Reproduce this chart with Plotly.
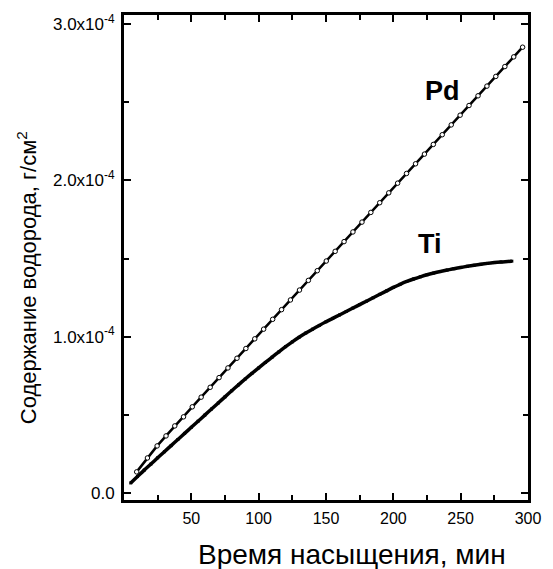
import plotly.graph_objects as go

# Pd series (time, min ; hydrogen content, 1e-4 g/cm2)
pd_t = [9.4, 17.4, 24.6, 31.2, 37.7, 44.2, 50.7, 57.3, 64.0, 70.6, 77.2, 83.9, 90.5, 97.1,
        103.7, 110.4, 117.0, 123.6, 130.3, 136.9, 143.5, 150.2, 156.8, 163.4, 170.0, 176.7,
        183.3, 189.9, 196.6, 203.2, 209.8, 216.5, 223.1, 229.7, 236.3, 243.0, 249.6, 256.2,
        262.9, 269.5, 276.1, 282.8, 289.4, 296.0]
pd_v = [0.135, 0.224, 0.301, 0.365, 0.429, 0.487, 0.551, 0.613, 0.676, 0.738, 0.800, 0.862,
        0.924, 0.986, 1.048, 1.111, 1.173, 1.235, 1.298, 1.360, 1.422, 1.484, 1.546, 1.608,
        1.670, 1.733, 1.795, 1.857, 1.920, 1.982, 2.044, 2.106, 2.168, 2.230, 2.292, 2.355,
        2.417, 2.479, 2.541, 2.603, 2.665, 2.728, 2.790, 2.852]

# Ti series
ti_t = [5, 10, 15, 20, 25, 30, 35, 40, 45, 50, 55, 60, 65, 70, 75, 80, 85, 90, 95, 100,
        105, 110, 115, 120, 125, 130, 135, 140, 145, 150, 155, 160, 165, 170, 175, 180,
        185, 190, 195, 200, 205, 210, 215, 220, 225, 230, 235, 240, 245, 250, 255, 260,
        265, 270, 275, 280, 285, 288]
ti_v = [0.064, 0.105, 0.146, 0.185, 0.225, 0.264, 0.303, 0.342, 0.381, 0.420, 0.459, 0.498,
        0.537, 0.576, 0.615, 0.654, 0.692, 0.729, 0.765, 0.800, 0.835, 0.869, 0.903, 0.936,
        0.967, 0.996, 1.023, 1.048, 1.072, 1.095, 1.117, 1.139, 1.161, 1.183, 1.205, 1.227,
        1.249, 1.271, 1.293, 1.315, 1.335, 1.353, 1.369, 1.383, 1.396, 1.407, 1.417, 1.426,
        1.435, 1.443, 1.450, 1.457, 1.463, 1.469, 1.474, 1.478, 1.481, 1.483]

x_ticks = [50, 100, 150, 200, 250, 300]
y_ticks = [0, 1e-4, 2e-4, 3e-4]
y_tick_text = ["0.0", "1.0x10<sup>-4</sup>", "2.0x10<sup>-4</sup>", "3.0x10<sup>-4</sup>"]

scale = 1e-4
fig = go.Figure()
fig.add_trace(go.Scatter(
    x=ti_t, y=[v * scale for v in ti_v], mode="lines+markers",
    line=dict(color="black", width=3.5, shape="spline", smoothing=0.8),
    marker=dict(color="black", size=3, symbol="square"),
    showlegend=False))
fig.add_trace(go.Scatter(
    x=pd_t, y=[v * scale for v in pd_v], mode="lines+markers",
    line=dict(color="black", width=2.5),
    marker=dict(color="white", size=4.5, line=dict(color="black", width=1)),
    showlegend=False))

W, H = 553, 569
L, R, T, B = 124, 16, 15, 69
pw, ph = W - L - R, H - T - B

font = "Liberation Sans, Arial, sans-serif"
fig.update_layout(
    width=W, height=H,
    margin=dict(l=L, r=R, t=T, b=B),
    paper_bgcolor="white", plot_bgcolor="white",
    font=dict(family=font, color="black"),
    xaxis=dict(range=[0, 300], tickvals=x_ticks, ticks="inside", ticklen=7, tickwidth=2,
               tickcolor="black", showline=True, linecolor="black", linewidth=3,
               mirror="ticks", showgrid=False, zeroline=False,
               tickfont=dict(size=16, family=font), ticklabelstandoff=2,
               minor=dict(dtick=25, tick0=0, ticks="inside", ticklen=5, tickwidth=2,
                          tickcolor="black", showgrid=False)),
    yaxis=dict(range=[-0.045e-4, 3.058e-4], tickvals=y_ticks, ticktext=y_tick_text,
               ticks="inside", ticklen=7, tickwidth=2, tickcolor="black",
               showline=True, linecolor="black", linewidth=3, mirror="ticks",
               showgrid=False, zeroline=False, tickfont=dict(size=17, family=font),
               ticklabelstandoff=3,
               minor=dict(dtick=0.5e-4, tick0=0, ticks="inside", ticklen=5, tickwidth=2,
                          tickcolor="black", showgrid=False)),
    annotations=[
        dict(text="<b>Pd</b>", x=236.5, y=2.57e-4, xref="x", yref="y", showarrow=False,
             font=dict(size=27, family=font)),
        dict(text="<b>Ti</b>", x=227.5, y=1.596e-4, xref="x", yref="y", showarrow=False,
             font=dict(size=27, family=font)),
        dict(text="Время насыщения, мин", x=(357 - L) / pw, y=(H - B - 554) / ph,
             xref="paper", yref="paper", showarrow=False, xanchor="center", yanchor="middle",
             font=dict(size=28, family=font)),
        dict(text="Содержание водорода, г/см<sup>2</sup>", x=(25 - L) / pw,
             y=(H - B - 278) / ph, xref="paper", yref="paper", showarrow=False,
             textangle=-90, xanchor="center", yanchor="middle",
             font=dict(size=22, family=font)),
    ],
)

fig.write_html("out.html")
